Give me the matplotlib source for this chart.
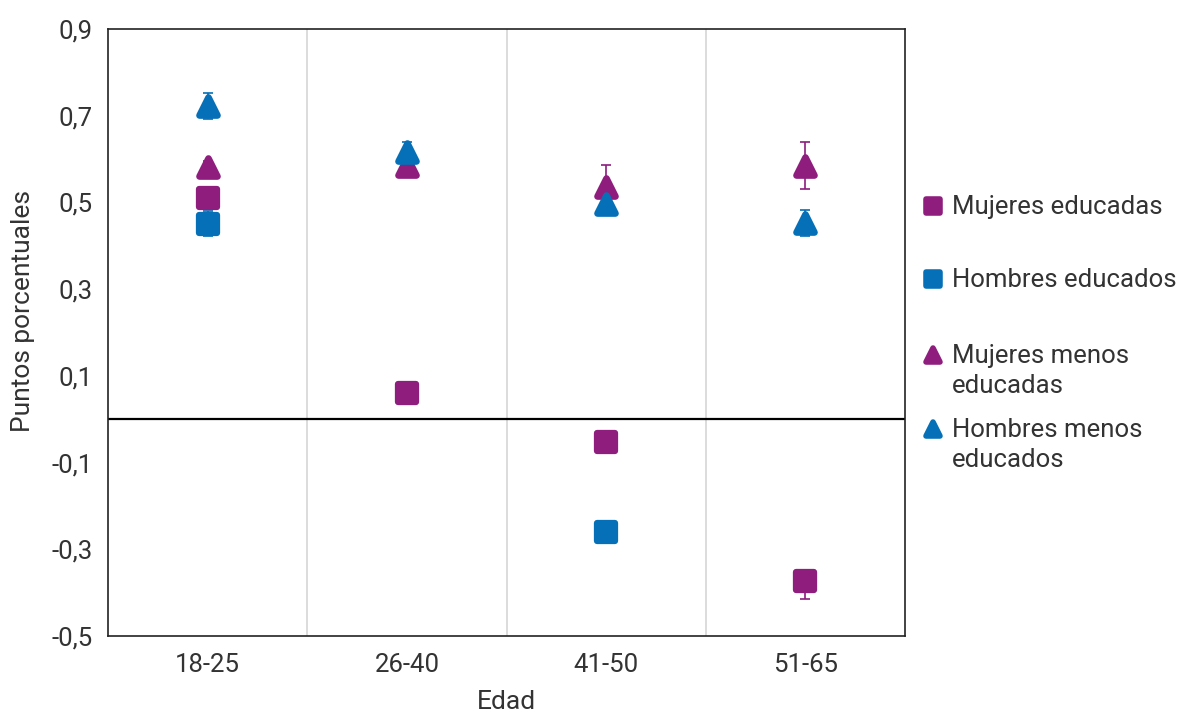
import numpy as np
import matplotlib
matplotlib.use("Agg")
import matplotlib.pyplot as plt
from matplotlib.lines import Line2D
from matplotlib.markers import MarkerStyle

plt.rcParams['font.family'] = ['Roboto', 'DejaVu Sans']

categories = ["18-25", "26-40", "41-50", "51-65"]
series_names = ["Mujeres educadas", "Hombres educados", "Mujeres menos\neducadas", "Hombres menos\neducados"]

mujeres_educadas = [0.51, 0.06, -0.052, -0.372]
mujeres_educadas_err_low = [0.015, 0.01, 0.01, 0.042]
mujeres_educadas_err_high = [0.015, 0.01, 0.01, 0.02]
hombres_educados = [0.451, np.nan, -0.259, np.nan]
hombres_educados_err_low = [0.029, 0.0, 0.01, 0.0]
hombres_educados_err_high = [0.029, 0.0, 0.01, 0.0]
mujeres_menos = [0.581, 0.584, 0.536, 0.585]
mujeres_menos_err_low = [0.015, 0.015, 0.02, 0.054]
mujeres_menos_err_high = [0.015, 0.015, 0.05, 0.054]
hombres_menos = [0.723, 0.617, 0.496, 0.452]
hombres_menos_err_low = [0.03, 0.022, 0.02, 0.03]
hombres_menos_err_high = [0.03, 0.022, 0.02, 0.03]

yticks = [-0.5, -0.3, -0.1, 0.1, 0.3, 0.5, 0.7, 0.9]
ytick_labels = ["-0,5", "-0,3", "-0,1", "0,1", "0,3", "0,5", "0,7", "0,9"]

PURPLE = "#8E1D7E"
BLUE = "#0570B8"
TXT = "#333333"

series = [
    (mujeres_educadas, mujeres_educadas_err_low, mujeres_educadas_err_high, PURPLE, 's'),
    (hombres_educados, hombres_educados_err_low, hombres_educados_err_high, BLUE, 's'),
    (mujeres_menos, mujeres_menos_err_low, mujeres_menos_err_high, PURPLE, '^'),
    (hombres_menos, hombres_menos_err_low, hombres_menos_err_high, BLUE, '^'),
]

fig = plt.figure(figsize=(12, 7.22), dpi=100)
ax = fig.add_axes([108/1200, 1-636/722, (905-108)/1200, (636-29)/722])

x = np.arange(len(categories))
for vals, elo, ehi, col, mk in series:
    ms = MarkerStyle(mk, joinstyle='round')
    ax.errorbar(x, vals, yerr=[elo, ehi], fmt='none', ecolor=col, elinewidth=1.2,
                capsize=3.8, capthick=1.2, zorder=3)
    ax.plot(x, vals, linestyle='none', marker=ms, markersize=12.5 if mk == 's' else 13.2,
            markerfacecolor=col, markeredgecolor=col,
            markeredgewidth=4.5 if mk == 's' else 4.8, zorder=4)

ax.set_xlim(-0.5, 3.5)
ax.set_ylim(-0.5, 0.9)
ax.set_xticks(x)
ax.set_xticklabels(categories)
ax.set_yticks(yticks)
ax.set_yticklabels(ytick_labels)
ax.set_xticks([0.5, 1.5, 2.5], minor=True)
ax.grid(True, which='minor', axis='x', color='#d9d9d9', linewidth=1.3, zorder=0)
ax.tick_params(axis='both', which='both', length=0, labelsize=18.5, labelcolor=TXT)
ax.tick_params(axis='x', pad=12)
ax.tick_params(axis='y', pad=11)
ax.axhline(0, color='black', linewidth=1.6, zorder=2)
for sp in ax.spines.values():
    sp.set_color('#222222')
    sp.set_linewidth(1.2)

ax.set_xlabel("Edad", fontsize=19, color=TXT, va='center')
ax.xaxis.set_label_coords(0.5, (636 - 702) / 607)
ax.set_ylabel("Puntos porcentuales", fontsize=19, color=TXT, va='center')
ax.yaxis.set_label_coords((23 - 108) / 797, (636 - 311) / 607)

# manual legend
leg_y = [206, 279, 355, 429]
for (vals, elo, ehi, col, mk), name, yy in zip(series, series_names, leg_y):
    fy = 1 - yy/722
    fig.add_artist(Line2D([933/1200], [fy], transform=fig.transFigure, linestyle='none',
                          marker=MarkerStyle(mk, joinstyle='round'), markersize=9.5,
                          markerfacecolor=col, markeredgecolor=col, markeredgewidth=4))
    fig.text(952/1200, 1 - (yy - 11)/722, name, fontsize=18.5, color=TXT, va='top', ha='left',
             linespacing=1.33)

fig.savefig("out.png", dpi=100)
